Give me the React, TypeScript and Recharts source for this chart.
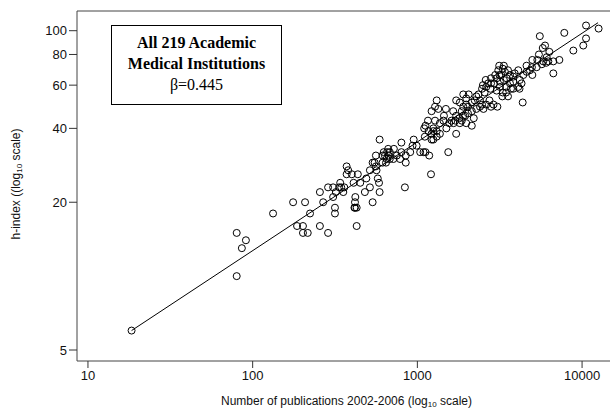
import React from "react";
import { ScatterChart, Scatter, XAxis, YAxis, ReferenceArea, ReferenceLine } from "recharts";

const pubs: number[] = [
  10570, 12600, 7800, 5540, 10570, 10170, 8850, 5960, 5770, 6330,
  7280, 6690, 6240, 5810, 5350, 4990, 5470, 6060, 4990, 4820,
  4400, 4100, 3820, 3550, 3300, 3100, 3230, 3480, 3030, 3170,
  2920, 3650, 4100, 4170, 3820, 3550, 3280, 3030, 2780, 2620,
  2500, 2470, 2560, 4360, 3060, 2800, 3350, 2970, 3460, 2740,
  2620, 2400, 2230, 2140, 1980, 1900, 1810, 1720, 2030, 1900,
  2280, 2140, 2520, 1860, 1950, 1800, 1700, 1810, 1660, 1560,
  1500, 2140, 1720, 1980, 2200, 1310, 1280, 1340, 1490, 1220,
  1160, 1120, 1250, 1310, 1220, 1310, 1250, 1110, 1120, 1180,
  1540, 1210, 1040, 1090, 935, 800, 590, 665, 635, 680,
  645, 615, 715, 550, 535, 905, 850, 785, 850, 435,
  410, 450, 372, 380, 360, 345, 335, 287, 268, 208,
  308, 420, 515, 585, 590, 575, 480, 535, 840, 372,
  340, 320, 415, 670, 625, 655, 990, 3400, 3140, 3350,
  3650, 3900, 2800, 2690, 2800, 3460, 3170, 3300, 2400, 2280,
  2470, 1980, 1900, 2030, 1720, 1610, 1860, 1440, 1370, 1280,
  1250, 1370, 1170, 1220, 680, 650, 615, 560, 750, 800,
  515, 565, 490, 400, 308, 256, 355, 5300, 4960, 4610,
  6100, 6690, 5700, 3820, 4190, 4290, 316, 316, 418, 428,
  428, 223, 202, 202, 216, 256, 287, 418, 80, 91,
  86, 80, 133, 176, 186, 18.4, 3150, 2600, 2350, 2050,
  1650, 1450, 1100, 950, 720, 560, 4600, 3700, 2900,
];

const hIndex: number[] = [
  105, 102, 98, 95, 93, 87, 83, 87, 85, 82,
  76, 67, 75, 75, 76, 76, 80, 74, 66, 69,
  66, 69, 65, 69, 70, 69, 66, 64, 64, 62,
  61, 61, 59, 58, 58, 54, 54, 57, 58, 59,
  60, 58, 56, 51, 49, 49, 63, 66, 56, 52,
  50, 49, 52, 51, 53, 55, 51, 52, 49, 49,
  48, 47, 48, 47, 45, 44, 43, 42, 42, 42,
  40, 41, 38, 42, 44, 52, 49, 48, 48, 47,
  43, 41, 40, 39, 38, 37, 36, 37, 32, 31,
  32, 26, 32, 32, 34, 35, 36, 33, 31, 30,
  29, 29, 30, 29, 29, 32, 29, 30, 31, 26,
  24, 24, 28, 27, 23, 23, 23, 23, 20, 20,
  21, 21, 23, 24, 22, 25, 22, 20, 23, 26,
  24, 22, 19, 31, 32, 32, 34, 68, 72, 72,
  66, 67, 61, 61, 64, 59, 59, 56, 52, 54,
  50, 50, 45, 46, 45, 43, 43, 43, 42, 43,
  39, 38, 39, 36, 32, 30, 31, 31, 31, 32,
  27, 27, 25, 26, 23, 22, 22, 71, 71, 68,
  78, 75, 73, 62, 63, 61, 19, 18, 19, 19,
  16, 18, 16, 15, 15, 16, 15, 20, 15, 14,
  13, 10, 18, 20, 16, 6, 66, 63, 55, 55,
  47, 45, 40, 36, 33, 28, 72, 58, 50,
];

const xTicks: number[] = [10, 100, 1000, 10000];
const yTicks: number[] = [5, 20, 40, 60, 80, 100];
const xDomain: number[] = [8.58, 15195];
const yDomain: number[] = [4.51, 120.3];
// fitted line end points
const fitStart = { x: 18.4, y: 6.0 };
const fitEnd = { x: 12500, y: 107.8 };

const points = pubs.map((p, i) => ({ pub: p, h: hIndex[i] }));

const Ring = (props: any) => {
  const { cx, cy } = props;
  if (cx == null || cy == null) return null;
  return <circle cx={cx} cy={cy} r={3.5} fill="none" stroke="#000" strokeWidth={1} />;
};

const tickStyle = { fontSize: 13, fontFamily: "Liberation Sans, Arial, sans-serif", fill: "#111" };

export default function App() {
  return (
    <div
      style={{
        position: "absolute",
        left: 0,
        top: 0,
        width: 610,
        height: 408,
        overflow: "hidden",
        background: "#fff",
      }}
    >
      <ScatterChart width={614} height={408} margin={{ top: 11, right: 2, left: 17, bottom: 7 }}>
        <XAxis
          type="number"
          dataKey="pub"
          scale="log"
          domain={xDomain}
          allowDataOverflow
          ticks={xTicks}
          interval={0}
          tickSize={7}
          tickMargin={3}
          height={40}
          axisLine={false}
          tickLine={{ stroke: "#333" }}
          tick={tickStyle}
          tickFormatter={(v: number) => String(v)}
        />
        <YAxis
          type="number"
          dataKey="h"
          scale="log"
          domain={yDomain}
          allowDataOverflow
          ticks={yTicks}
          interval={0}
          tickSize={8}
          tickMargin={2}
          width={60}
          axisLine={false}
          tickLine={{ stroke: "#333" }}
          tick={tickStyle}
          tickFormatter={(v: number) => String(v)}
        />
        <ReferenceArea
          x1={xDomain[0]}
          x2={xDomain[1]}
          y1={yDomain[0]}
          y2={yDomain[1]}
          fill="none"
          fillOpacity={0}
          stroke="#444"
          strokeWidth={1}
          ifOverflow="visible"
        />
        <ReferenceLine
          segment={[fitStart, fitEnd]}
          stroke="#000"
          strokeWidth={1}
          ifOverflow="visible"
        />
        <Scatter data={points} shape={Ring} isAnimationActive={false} />
      </ScatterChart>

      <div
        style={{
          position: "absolute",
          left: 111,
          top: 25,
          width: 169,
          height: 72,
          border: "1px solid #000",
          background: "#fff",
          fontFamily: "Liberation Serif, Times New Roman, serif",
          fontSize: 16,
          lineHeight: "21px",
          textAlign: "center",
          paddingTop: 6,
          boxSizing: "content-box",
        }}
      >
        <div style={{ fontWeight: "bold" }}>All 219 Academic</div>
        <div style={{ fontWeight: "bold" }}>Medical Institutions</div>
        <div>β=0.445</div>
      </div>

      <div
        style={{
          position: "absolute",
          left: 79,
          top: 394,
          width: 535,
          textAlign: "center",
          fontFamily: "Liberation Sans, Arial, sans-serif",
          fontSize: 12,
          lineHeight: "14px",
          color: "#111",
          whiteSpace: "nowrap",
        }}
      >
        Number of publications 2002-2006 (log
        <sub style={{ fontSize: 8, verticalAlign: "-2px" }}>10</sub> scale)
      </div>

      <div
        style={{
          position: "absolute",
          left: 16 - 150,
          top: 184 - 7,
          width: 300,
          height: 14,
          transform: "rotate(-90deg)",
          transformOrigin: "150px 7px",
          textAlign: "center",
          fontFamily: "Liberation Sans, Arial, sans-serif",
          fontSize: 12,
          lineHeight: "14px",
          color: "#111",
          whiteSpace: "nowrap",
        }}
      >
        h-index ((log
        <sub style={{ fontSize: 8, verticalAlign: "-2px" }}>10</sub> scale)
      </div>
    </div>
  );
}
